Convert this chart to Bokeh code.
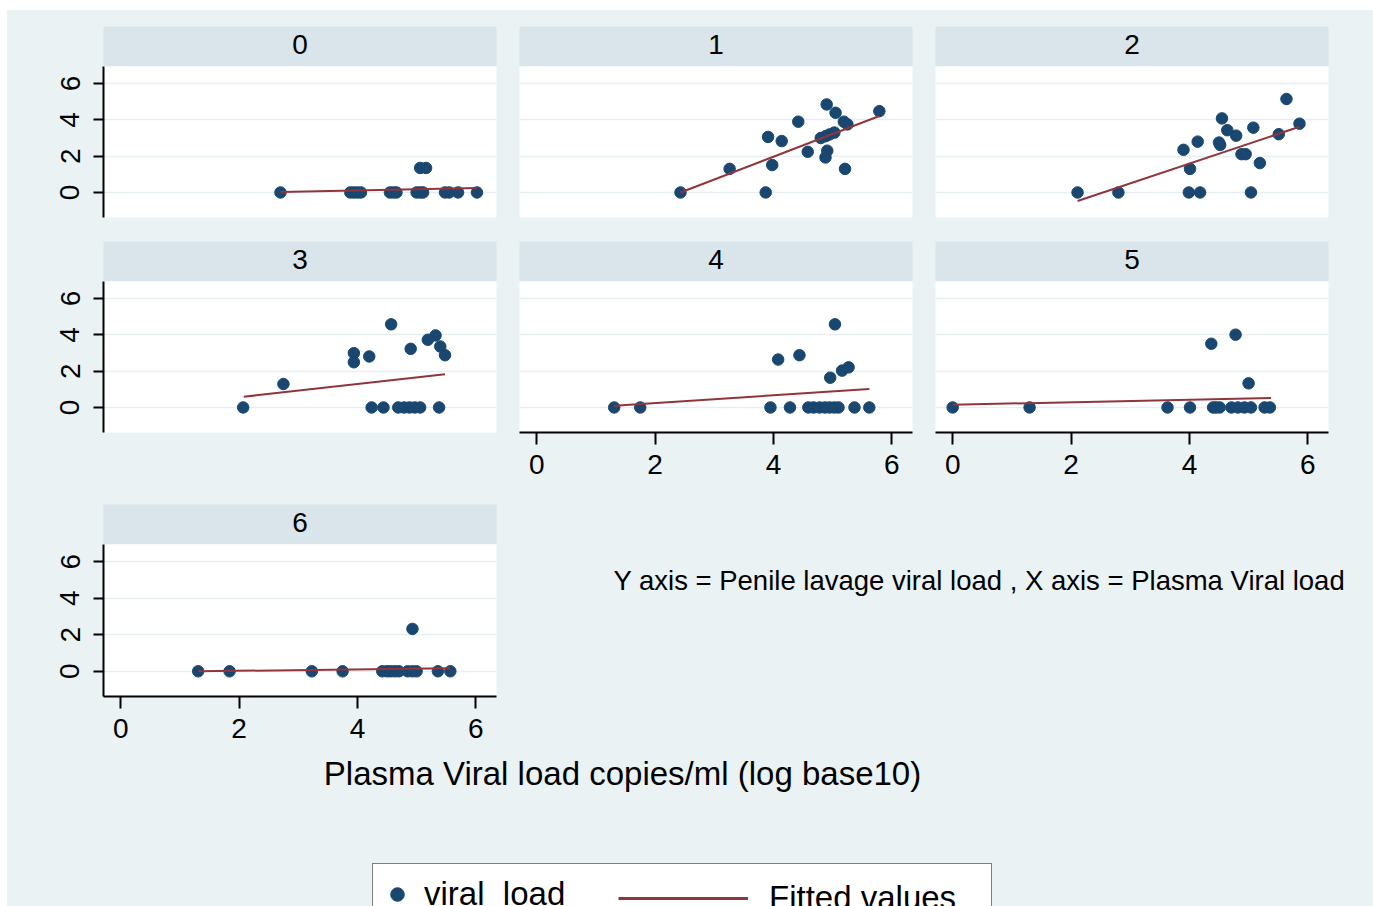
from bokeh.plotting import figure
from bokeh.models import (Range1d, LinearAxis, Grid, FixedTicker, Label, Legend,
                          LegendItem, ColumnDataSource, Spacer)
from bokeh.layouts import row, column
from bokeh.embed import file_html
from bokeh.resources import INLINE
from bokeh.core.properties import value

# ---------------- data ----------------
groups = ["0", "1", "2", "3", "4", "5", "6"]

x_g0 = [2.70, 3.88, 3.94, 4.00, 4.06, 4.55, 4.61, 4.66, 5.00, 5.06, 5.11, 5.06, 5.16, 5.48, 5.55, 5.70, 6.02]
y_g0 = [0, 0, 0, 0, 0, 0, 0, 0, 0, 0, 0, 1.35, 1.35, 0, 0, 0, 0]

x_g1 = [2.43, 3.26, 3.87, 3.91, 3.98, 4.14, 4.42, 4.58, 4.90, 5.05, 4.80, 4.88, 4.95, 5.03, 4.91, 4.88, 5.19, 5.25, 5.21, 5.79]
y_g1 = [0, 1.30, 0, 3.06, 1.51, 2.83, 3.90, 2.24, 4.85, 4.39, 3.00, 3.10, 3.20, 3.30, 2.30, 1.93, 3.90, 3.75, 1.30, 4.48]

x_g2 = [2.11, 2.80, 3.90, 4.01, 3.99, 4.18, 4.14, 4.55, 4.64, 4.52, 4.50, 4.79, 4.88, 4.95, 5.08, 5.04, 5.19, 5.51, 5.64, 5.86]
y_g2 = [0, 0, 2.35, 1.30, 0, 0, 2.80, 4.08, 3.43, 2.62, 2.75, 3.13, 2.11, 2.11, 3.57, 0, 1.62, 3.21, 5.15, 3.79]

x_g3 = [2.07, 2.75, 3.94, 3.94, 4.20, 4.57, 4.90, 5.19, 5.32, 5.40, 5.48, 4.24, 4.44, 4.69, 4.79, 4.88, 4.97, 5.06, 5.38]
y_g3 = [0, 1.29, 2.99, 2.49, 2.81, 4.58, 3.23, 3.73, 3.97, 3.36, 2.88, 0, 0, 0, 0, 0, 0, 0, 0]

x_g4 = [1.31, 1.75, 3.95, 4.28, 4.59, 4.68, 4.78, 4.87, 4.95, 5.03, 5.10, 5.37, 5.62, 4.08, 4.44, 5.04, 4.96, 5.16, 5.27]
y_g4 = [0, 0, 0, 0, 0, 0, 0, 0, 0, 0, 0, 0, 0, 2.64, 2.88, 4.58, 1.64, 2.03, 2.21]

x_g5 = [0.00, 1.30, 3.63, 4.01, 4.40, 4.45, 4.51, 4.71, 4.82, 4.93, 5.04, 5.27, 5.36, 4.37, 4.78, 5.00]
y_g5 = [0, 0, 0, 0, 0, 0, 0, 0, 0, 0, 0, 0, 0, 3.51, 4.01, 1.33]

x_g6 = [1.31, 1.84, 3.23, 3.75, 4.42, 4.50, 4.56, 4.63, 4.70, 4.85, 4.93, 5.00, 5.36, 5.57, 4.93]
y_g6 = [0, 0, 0, 0, 0, 0, 0, 0, 0, 0, 0, 0, 0, 0, 2.32]

# fitted values (linear fit endpoints per group)
fit_x_start = [2.70, 2.43, 2.11, 2.08, 1.31, 0.00, 1.31]
fit_x_end   = [6.02, 5.79, 5.86, 5.48, 5.62, 5.38, 5.57]
fit_y_start = [0.02, 0.00, -0.47, 0.59, 0.09, 0.15, 0.00]
fit_y_end   = [0.25, 4.21, 3.62, 1.83, 1.02, 0.52, 0.16]

y_ticks = [0, 2, 4, 6]
x_ticks = [0, 2, 4, 6]

x_title = "Plasma Viral load copies/ml (log base10)"
note_text = "Y axis = Penile lavage viral load , X axis = Plasma Viral load"
legend_labels = ["viral_load", "Fitted values"]

xs_all = [x_g0, x_g1, x_g2, x_g3, x_g4, x_g5, x_g6]
ys_all = [y_g0, y_g1, y_g2, y_g3, y_g4, y_g5, y_g6]

# ---------------- style ----------------
BG = "#EAF2F3"
STRIP = "#D9E5EB"
GRID = "#E6EEF1"
NAVY = "#1A476F"
MAROON = "#90353B"
FONT = "Liberation Sans"
BGSTYLE = {"background-color": BG}

col_w = [500, 416, 450]
col_l = [96, 12, 12]
col_r = [11, 11, 45]

strip_h = [56, 51, 51]
strip_top = [16, 11, 11]
panel_h = [164, 212, 206]
panel_b = [13, 61, 54]

sources = []
fit_sources = []


def make_strip(i, c, r):
    s = figure(width=col_w[c], height=strip_h[r], x_range=Range1d(0, 1), y_range=Range1d(0, 1),
               x_axis_type=None, y_axis_type=None, toolbar_location=None, output_backend="svg",
               title=None, min_border_left=col_l[c], min_border_right=col_r[c],
               min_border_top=strip_top[r], min_border_bottom=0)
    s.background_fill_color = STRIP
    s.border_fill_color = BG
    s.outline_line_color = None
    s.add_layout(Label(x=0.5, y=0.55, text=groups[i], text_align="center", text_baseline="middle",
                       text_font_size="28px", text_font=FONT, text_color="black"))
    return s


def make_panel(i, c, r, show_y, show_x):
    p = figure(width=col_w[c], height=panel_h[r], x_range=Range1d(-0.29, 6.35),
               y_range=Range1d(-1.38, 6.94), x_axis_type=None, y_axis_type=None,
               toolbar_location=None, output_backend="svg", title=None,
               min_border_left=col_l[c], min_border_right=col_r[c],
               min_border_top=0, min_border_bottom=panel_b[r])
    p.background_fill_color = "white"
    p.border_fill_color = BG
    p.outline_line_color = None
    p.add_layout(Grid(dimension=1, ticker=FixedTicker(ticks=y_ticks),
                      grid_line_color=GRID, grid_line_width=1.5))
    if show_y:
        ya = LinearAxis(ticker=FixedTicker(ticks=y_ticks), axis_line_width=2, axis_line_color="black",
                        major_tick_line_width=2, major_tick_out=10, major_tick_in=0,
                        minor_tick_out=0, minor_tick_in=0, major_label_standoff=14,
                        major_label_orientation="vertical",
                        major_label_text_font_size="28px", major_label_text_font=FONT,
                        major_label_text_color="black")
        p.add_layout(ya, "left")
    if show_x:
        xa = LinearAxis(ticker=FixedTicker(ticks=x_ticks), axis_line_width=2, axis_line_color="black",
                        major_tick_line_width=2, major_tick_out=12, major_tick_in=0,
                        minor_tick_out=0, minor_tick_in=0, major_label_standoff=10,
                        major_label_text_font_size="28px", major_label_text_font=FONT,
                        major_label_text_color="black")
        p.add_layout(xa, "below")
    src = ColumnDataSource(data=dict(x=xs_all[i], y=ys_all[i]))
    p.scatter(x="x", y="y", source=src, size=11.5, fill_color=NAVY, line_color=NAVY)
    fsrc = ColumnDataSource(data=dict(x=[fit_x_start[i], fit_x_end[i]],
                                      y=[fit_y_start[i], fit_y_end[i]]))
    p.line(x="x", y="y", source=fsrc, line_color=MAROON, line_width=2)
    sources.append(src)
    fit_sources.append(fsrc)
    return p


cells = {}
spec = {0: (0, 0, True, False), 1: (1, 0, False, False), 2: (2, 0, False, False),
        3: (0, 1, True, False), 4: (1, 1, False, True), 5: (2, 1, False, True),
        6: (0, 2, True, True)}
for i, (c, r, sy, sx) in spec.items():
    cells[i] = column(make_strip(i, c, r), make_panel(i, c, r, sy, sx), styles=BGSTYLE)

# note figure to the right of panel 6
note_w, note_h = 866, 257
note = figure(width=note_w, height=note_h, x_range=Range1d(0, note_w), y_range=Range1d(0, note_h),
              x_axis_type=None, y_axis_type=None, toolbar_location=None, output_backend="svg",
              title=None, min_border=0)
note.background_fill_color = BG
note.border_fill_color = BG
note.outline_line_color = None
note.add_layout(Label(x=106, y=170, text=note_text, text_align="left", text_baseline="middle",
                      text_font_size="27.5px", text_font=FONT, text_color="black"))

# bottom figure: x title + legend
bw, bh = 1366, 156
bottom = figure(width=bw, height=bh, x_range=Range1d(0, bw), y_range=Range1d(0, bh),
                x_axis_type=None, y_axis_type=None, toolbar_location=None, output_backend="svg",
                title=None, min_border=0)
bottom.background_fill_color = BG
bottom.border_fill_color = BG
bottom.outline_line_color = None
bottom.add_layout(Label(x=615, y=133, text=x_title, text_align="center", text_baseline="middle",
                        text_font_size="33px", text_font=FONT, text_color="black"))

# legend renderers reuse group 6 data but are hidden in this figure
r_dot = bottom.scatter(x="x", y="y", source=sources[6], size=12, fill_color=NAVY,
                       line_color=NAVY, visible=False)
r_line = bottom.line(x="x", y="y", source=fit_sources[6], line_color=MAROON, line_width=3,
                     visible=False)

legA = Legend(items=[LegendItem(label=value(legend_labels[0]), renderers=[r_dot])],
              location=(365, -19), margin=0, padding=7, glyph_width=34, glyph_height=46,
              label_standoff=10, label_width=560, label_height=46,
              label_text_font_size="33px", label_text_font=FONT, label_text_color="black",
              border_line_color="black", border_line_width=1.5,
              background_fill_color="white", background_fill_alpha=1.0)
legB = Legend(items=[LegendItem(label=value(legend_labels[1]), renderers=[r_line])],
              location=(611, -11), margin=0, padding=7, glyph_width=130, glyph_height=36,
              label_standoff=21, label_height=36,
              label_text_font_size="33px", label_text_font=FONT, label_text_color="black",
              border_line_color=None, background_fill_alpha=0.0)
bottom.add_layout(legA)
bottom.add_layout(legB)

row0 = row(cells[0], cells[1], cells[2], styles=BGSTYLE)
row1 = row(cells[3], cells[4], cells[5], styles=BGSTYLE)
row2 = row(cells[6], note, styles=BGSTYLE)
main = column(row0, row1, row2, bottom, styles=BGSTYLE)
page = column(Spacer(width=1373, height=10), row(Spacer(width=7, height=896), main))

open("out.html", "w").write(file_html(page, INLINE))
